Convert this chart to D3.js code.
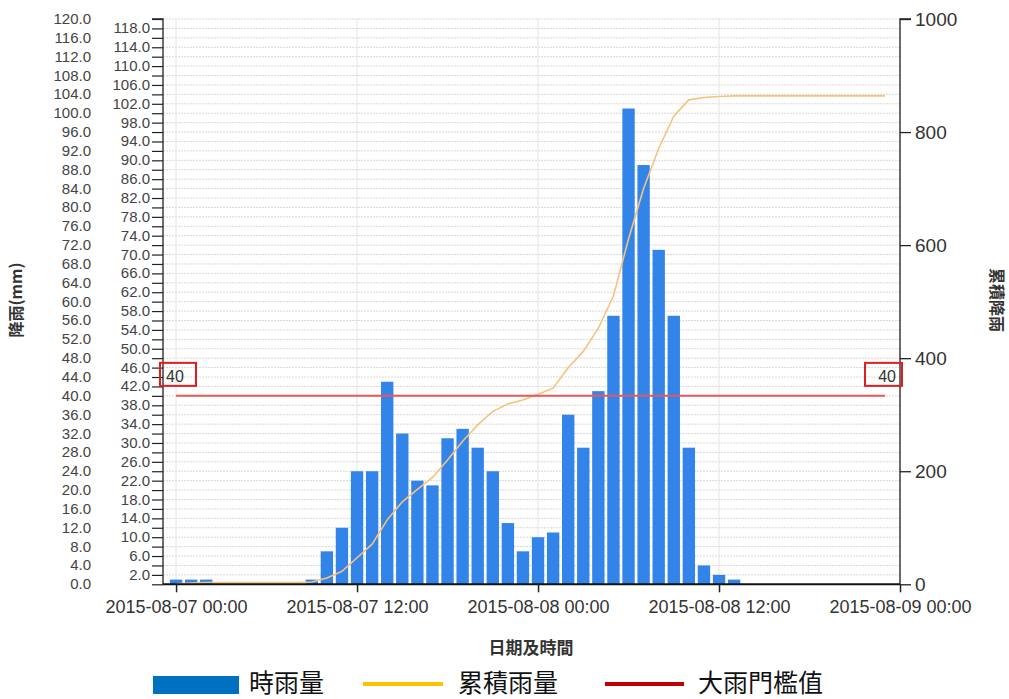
<!DOCTYPE html>
<html>
<head>
<meta charset="utf-8">
<script src="https://cdn.jsdelivr.net/npm/d3@7"></script>
<style>
  html, body { margin: 0; padding: 0; background: #fff; }
  svg { display: block; }
</style>
</head>
<body>
<svg id="chart" width="1009" height="699"></svg>
<script>
// ---------- data ----------
const startTime = new Date(2015, 7, 7, 0, 0);           // first hourly bar
const hourlyRain = [1, 1, 1, 0, 0, 0, 0, 0, 0, 1, 7, 12,
  24, 24, 43, 32, 22, 21, 31, 33, 29, 24, 13, 7,
  10, 11, 36, 29, 41, 57, 101, 89, 71, 57, 29, 4,
  2, 1, 0, 0, 0, 0, 0, 0, 0, 0, 0, 0];
const cumulativeRain = [1, 2, 3, 3, 3, 3, 3, 3, 3, 4, 11, 23,
  47, 71, 114, 146, 168, 189, 220, 253, 282, 306, 319, 326,
  336, 347, 383, 412, 453, 510, 611, 700, 771, 828, 857, 861,
  863, 864, 864, 864, 864, 864, 864, 864, 864, 864, 864, 864];
const threshold = 40;
const xTickLabels = ["2015-08-07 00:00", "2015-08-07 12:00", "2015-08-08 00:00", "2015-08-08 12:00", "2015-08-09 00:00"];
const xTicks = [new Date(2015,7,7,0), new Date(2015,7,7,12), new Date(2015,7,8,0), new Date(2015,7,8,12), new Date(2015,7,9,0)];
const leftTicks = d3.range(0, 121, 2);
const rightTicks = [0, 200, 400, 600, 800, 1000];
const legendItems = ["時雨量", "累積雨量", "大雨門檻值"];
const axisTitles = { left: "降雨(mm)", right: "累積降雨", x: "日期及時間" };

// ---------- layout ----------
const svg = d3.select("#chart");
const L = 163, R = 900, T = 19, B = 584.3;
const numFont = "'Liberation Sans', Arial, sans-serif";
const cjkFont = "'Noto Sans CJK TC', 'Noto Sans CJK SC', sans-serif";

const x = d3.scaleTime()
  .domain([new Date(2015, 7, 6, 23, 8), new Date(2015, 7, 9, 0, 0)])
  .range([L, R]);
const yL = d3.scaleLinear().domain([0, 120]).range([B, T]);
const yR = d3.scaleLinear().domain([0, 1000]).range([B, T]);
const hourTime = i => d3.timeHour.offset(startTime, i);
const hourW = x(hourTime(1)) - x(hourTime(0));

// ---------- grid ----------
const grid = svg.append("g");
grid.selectAll("line.h").data(leftTicks.filter(d => d > 0)).join("line")
  .attr("x1", L).attr("x2", R)
  .attr("y1", d => yL(d)).attr("y2", d => yL(d))
  .attr("stroke", "#d8d8d8").attr("stroke-width", 1)
  .attr("stroke-dasharray", "2,1");
grid.selectAll("line.v").data(xTicks).join("line")
  .attr("x1", d => x(d)).attr("x2", d => x(d))
  .attr("y1", T).attr("y2", B)
  .attr("stroke", "#e4e4e4").attr("stroke-width", 1);

// ---------- bars ----------
svg.append("g").selectAll("rect").data(hourlyRain).join("rect")
  .attr("x", (d, i) => x(hourTime(i)) - hourW * 0.41)
  .attr("width", hourW * 0.82)
  .attr("y", d => yL(d))
  .attr("height", d => B - yL(d))
  .attr("fill", "#3384e8");

// ---------- cumulative line ----------
svg.append("path")
  .datum(cumulativeRain)
  .attr("d", d3.line().x((d, i) => x(hourTime(i))).y(d => yR(d)))
  .attr("fill", "none").attr("stroke", "#f6c27c").attr("stroke-width", 1.6);

// ---------- threshold line ----------
svg.append("line")
  .attr("x1", x(hourTime(0))).attr("x2", x(hourTime(47)))
  .attr("y1", yL(threshold)).attr("y2", yL(threshold))
  .attr("stroke", "#ee5555").attr("stroke-width", 2);

// ---------- axes ----------
// left axis
const leftAxis = svg.append("g").attr("transform", `translate(${L},0)`)
  .call(d3.axisLeft(yL).tickValues(leftTicks).tickSize(11).tickFormat(""));
leftAxis.select(".domain").attr("stroke", "#222").attr("stroke-width", 1.3).attr("d", `M-11,${T}H0V${B}`);
leftAxis.selectAll(".tick line").attr("stroke", "#222").attr("stroke-width", 1.2);
// two columns of labels
svg.append("g").selectAll("text").data(leftTicks.filter(d => d % 4 === 2)).join("text")
  .attr("x", 150).attr("y", d => yL(d) + 5)
  .attr("text-anchor", "end").attr("font-family", numFont).attr("font-size", 15)
  .attr("fill", "#444").text(d => d.toFixed(1));
svg.append("g").selectAll("text").data(leftTicks.filter(d => d % 4 === 0)).join("text")
  .attr("x", 91).attr("y", d => yL(d) + 5)
  .attr("text-anchor", "end").attr("font-family", numFont).attr("font-size", 15)
  .attr("fill", "#444").text(d => d.toFixed(1));

// right axis
const rightAxis = svg.append("g").attr("transform", `translate(${R},0)`)
  .call(d3.axisRight(yR).tickValues(rightTicks).tickSize(11).tickPadding(4).tickFormat(d3.format("d")));
rightAxis.select(".domain").attr("stroke", "#222").attr("stroke-width", 1.3).attr("d", `M11,${T}H0V${B}`);
rightAxis.selectAll(".tick line").attr("stroke", "#222").attr("stroke-width", 1.3);
rightAxis.selectAll(".tick text").attr("font-family", numFont).attr("font-size", 19).attr("fill", "#333");

// bottom axis
const xAxis = svg.append("g").attr("transform", `translate(0,${B})`)
  .call(d3.axisBottom(x).tickValues(xTicks).tickSize(8).tickPadding(8)
    .tickFormat((d, i) => xTickLabels[i]));
xAxis.select(".domain").attr("stroke", "#111").attr("stroke-width", 2).attr("d", `M${L},0H${R}`);
xAxis.selectAll(".tick line").attr("stroke", "#222").attr("stroke-width", 1.5);
xAxis.selectAll(".tick text").attr("font-family", numFont).attr("font-size", 18).attr("fill", "#333");

// ---------- threshold boxes ----------
const boxY = yL(threshold) - 33, boxH = 23;
const boxes = [{ x0: 160, w: 36, tx: 166, anchor: "start" }, { x0: 865, w: 37, tx: 896, anchor: "end" }];
const bg = svg.append("g");
bg.selectAll("rect").data(boxes).join("rect")
  .attr("x", d => d.x0).attr("y", boxY).attr("width", d => d.w).attr("height", boxH)
  .attr("fill", "none").attr("stroke", "#e01e1e").attr("stroke-width", 2);
bg.selectAll("text").data(boxes).join("text")
  .attr("x", d => d.tx).attr("y", boxY + 19).attr("text-anchor", d => d.anchor)
  .attr("font-family", numFont).attr("font-size", 16).attr("fill", "#333").text(threshold);

// ---------- axis titles ----------
svg.append("text").attr("transform", "translate(22,300) rotate(-90)")
  .attr("text-anchor", "middle").attr("font-family", cjkFont).attr("font-size", 16)
  .attr("font-weight", "bold").attr("fill", "#333").text(axisTitles.left);
svg.append("text").attr("transform", "translate(991,300) rotate(90)")
  .attr("text-anchor", "middle").attr("font-family", cjkFont).attr("font-size", 16)
  .attr("font-weight", "bold").attr("fill", "#333").text(axisTitles.right);
svg.append("text").attr("x", 531).attr("y", 654)
  .attr("text-anchor", "middle").attr("font-family", cjkFont).attr("font-size", 17)
  .attr("font-weight", "bold").attr("fill", "#333").text(axisTitles.x);

// ---------- legend ----------
const lg = svg.append("g");
const legendY = 684;
lg.append("rect").attr("x", 153).attr("y", 676).attr("width", 86).attr("height", 18).attr("fill", "#0070c0");
lg.append("line").attr("x1", 363).attr("x2", 443).attr("y1", legendY).attr("y2", legendY)
  .attr("stroke", "#ffc000").attr("stroke-width", 4);
lg.append("line").attr("x1", 605).attr("x2", 684).attr("y1", legendY).attr("y2", legendY)
  .attr("stroke", "#c00000").attr("stroke-width", 4);
const legendTextX = [249, 458, 698];
lg.selectAll("text").data(legendItems).join("text")
  .attr("x", (d, i) => legendTextX[i]).attr("y", 692)
  .attr("font-family", cjkFont).attr("font-size", 25).attr("fill", "#111")
  .text(d => d);
</script>
</body>
</html>
